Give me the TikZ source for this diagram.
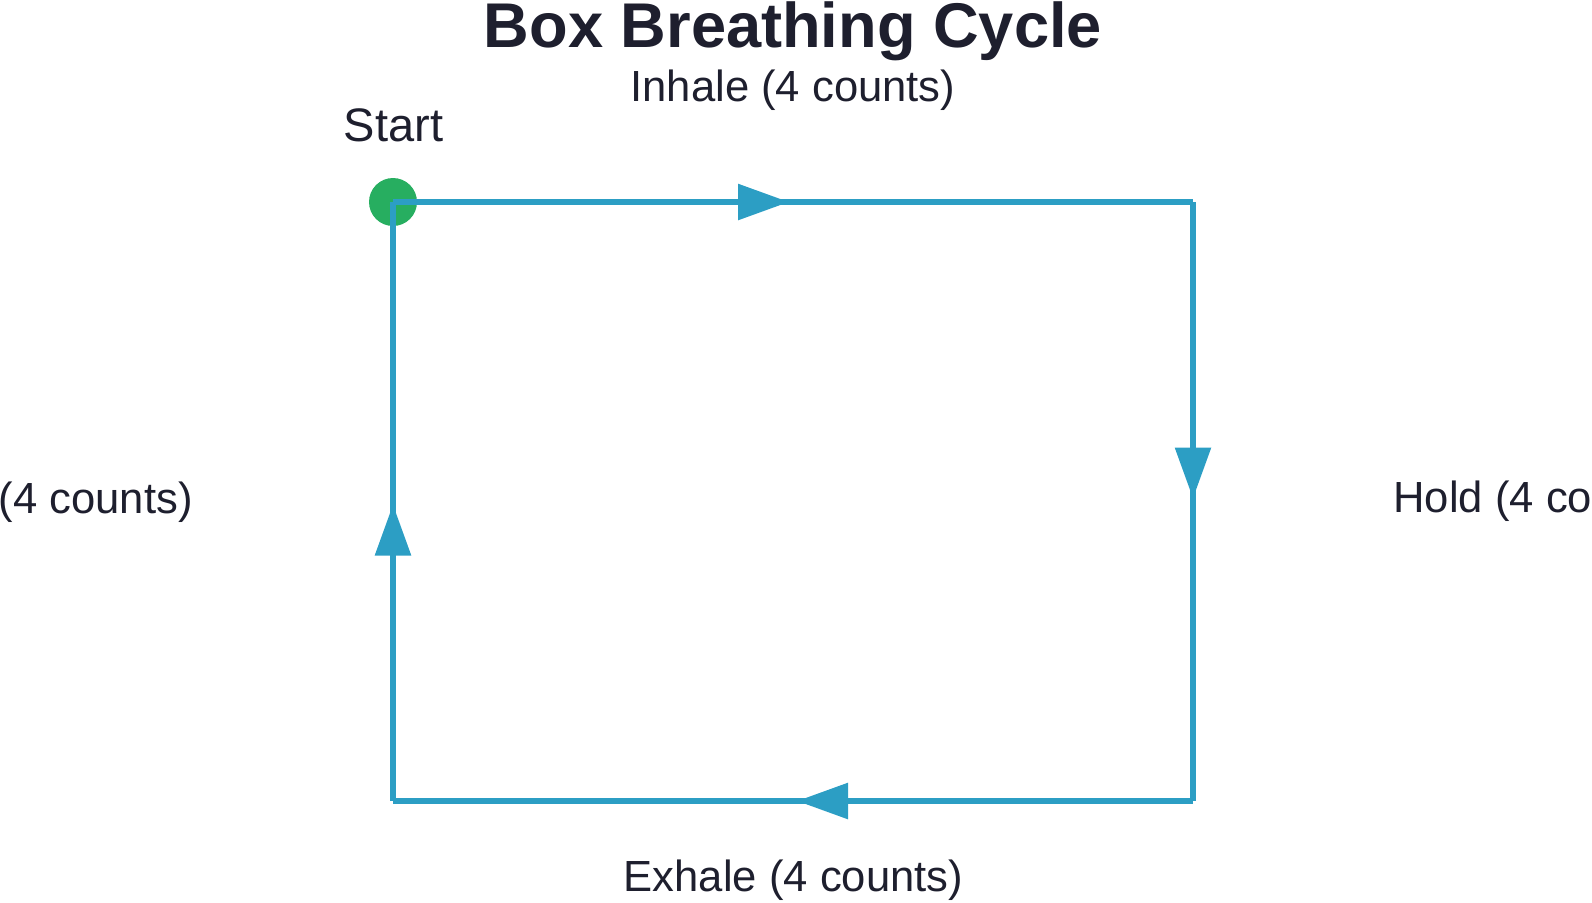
\documentclass[tikz,border=0pt]{standalone}
\usepackage{fontspec}
\setmainfont{Liberation Sans}
\usetikzlibrary{arrows.meta,decorations.markings}
\definecolor{boxblue}{HTML}{2C9EC4}
\definecolor{startgreen}{HTML}{27AE60}
\definecolor{inkdark}{HTML}{1E1F2E}

\begin{document}
\begin{tikzpicture}[
    x=0.5pt, y=-0.5pt,
    side/.style={draw=boxblue, line width=2.9pt, line cap=square,
      postaction={decorate},
      decoration={markings, mark=at position 0.495 with {\arrow[boxblue]{Triangle[length=25.5pt,width=17.5pt]}}}},
    startdot/.style={circle, fill=startgreen, minimum size=24pt, inner sep=0pt},
    caption/.style={text=inkdark, inner sep=0pt, anchor=base, font=\fontsize{21.8pt}{26pt}\selectfont},
    heading/.style={text=inkdark, inner sep=0pt, anchor=base, font=\bfseries\fontsize{31.6pt}{38pt}\selectfont}
]
  \useasboundingbox (0,0) rectangle (1592,902);
  \clip (0,0) rectangle (1592,902);

  % corners of the box
  \node[startdot] (start) at (393,202) {};
  \coordinate (topright) at (1193,202);
  \coordinate (botright) at (1193,801);
  \coordinate (botleft) at (393,801);

  % the four sides, clockwise
  \draw[side] (start.center) -- (topright);
  \draw[side] (topright) -- (botright);
  \draw[side] (botright) -- (botleft);
  \draw[side] (botleft) -- (start.center);

  % texts
  \node[heading] (title) at (793,47.5) {Box Breathing Cycle};
  \node[caption] (inhale) at (793,101.7) {Inhale (4 counts)};
  \node[caption] (exhale) at (793.5,891.7) {Exhale (4 counts)};
  \node[caption, font=\fontsize{23.5pt}{28pt}\selectfont] (startlabel) at (393.5,141.7) {Start};
  \node[caption, anchor=base west] (holdright) at (1393,512.7) {Hold (4 counts)};
  \node[caption, anchor=base east] (holdleft) at (193,513.3) {Hold (4 counts)};
\end{tikzpicture}
\end{document}
